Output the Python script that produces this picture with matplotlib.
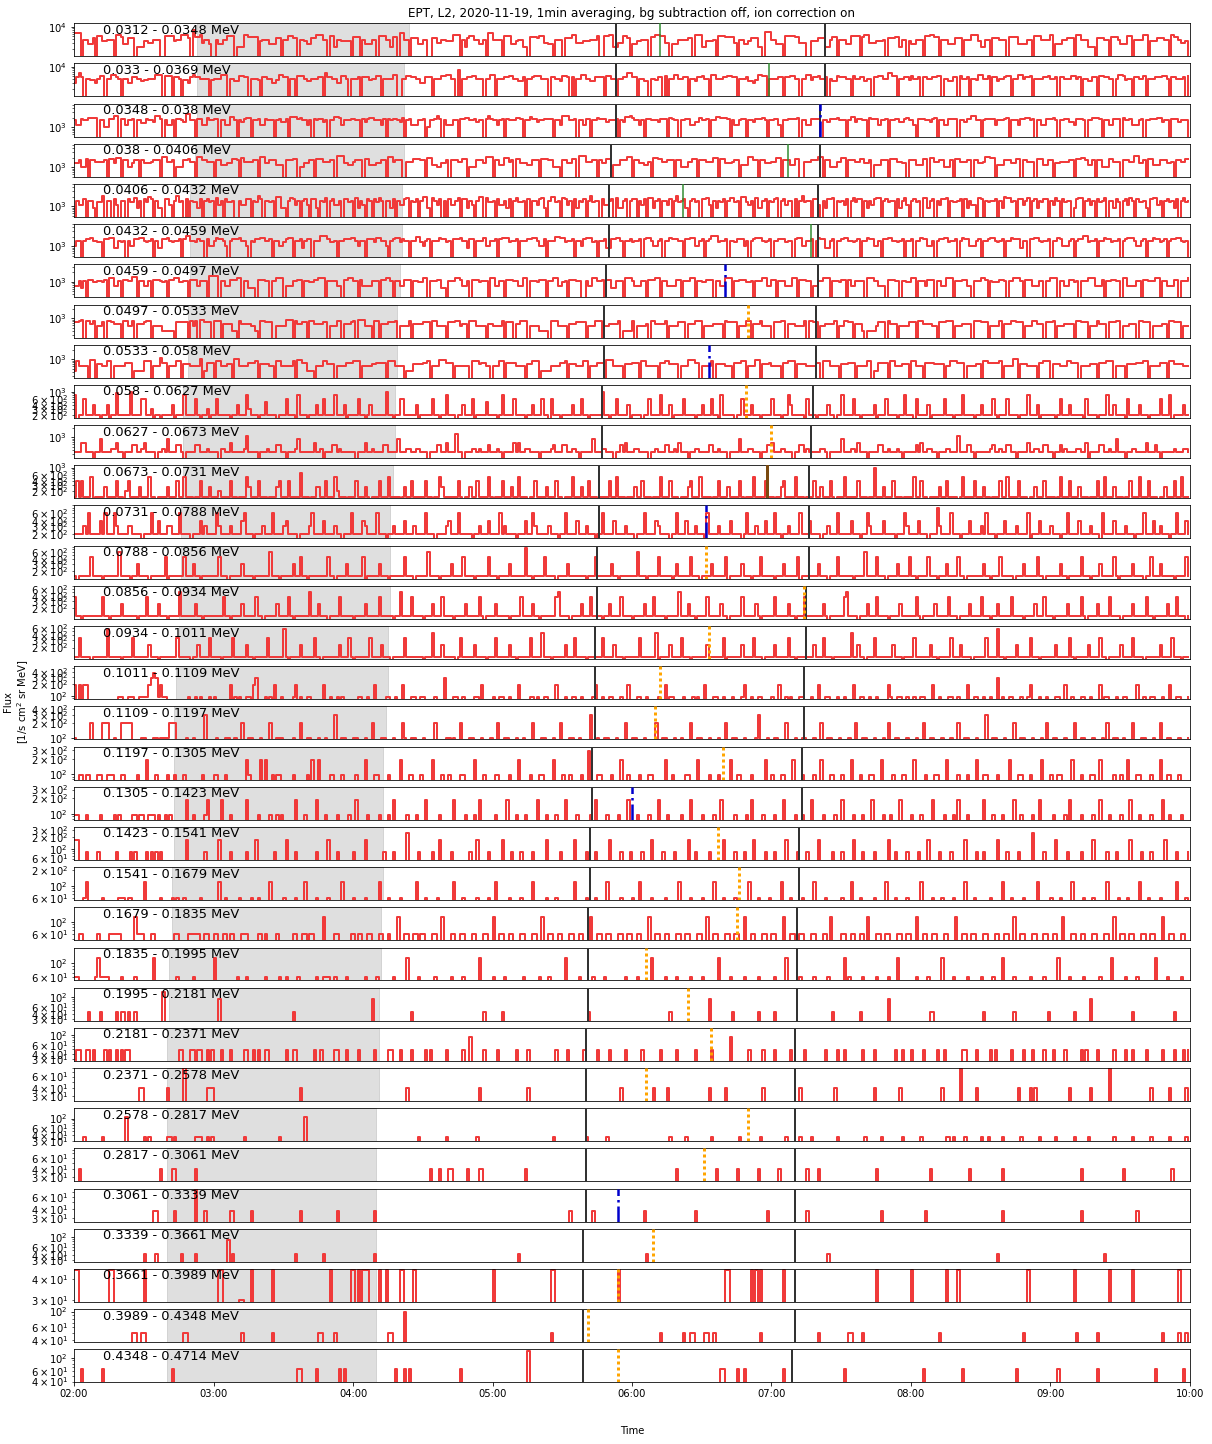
import numpy as np
import matplotlib
matplotlib.use('Agg')
import matplotlib.pyplot as plt
import matplotlib.dates as mdates

# EPT L2 electron channels, 2020-11-19 02:00-10:00, 1 min averaging
channels = ['0.0312 - 0.0348 MeV', '0.033 - 0.0369 MeV', '0.0348 - 0.038 MeV',
            '0.038 - 0.0406 MeV', '0.0406 - 0.0432 MeV', '0.0432 - 0.0459 MeV',
            '0.0459 - 0.0497 MeV', '0.0497 - 0.0533 MeV', '0.0533 - 0.058 MeV',
            '0.058 - 0.0627 MeV', '0.0627 - 0.0673 MeV', '0.0673 - 0.0731 MeV',
            '0.0731 - 0.0788 MeV', '0.0788 - 0.0856 MeV', '0.0856 - 0.0934 MeV',
            '0.0934 - 0.1011 MeV', '0.1011 - 0.1109 MeV', '0.1109 - 0.1197 MeV',
            '0.1197 - 0.1305 MeV', '0.1305 - 0.1423 MeV', '0.1423 - 0.1541 MeV',
            '0.1541 - 0.1679 MeV', '0.1679 - 0.1835 MeV', '0.1835 - 0.1995 MeV',
            '0.1995 - 0.2181 MeV', '0.2181 - 0.2371 MeV', '0.2371 - 0.2578 MeV',
            '0.2578 - 0.2817 MeV', '0.2817 - 0.3061 MeV', '0.3061 - 0.3339 MeV',
            '0.3339 - 0.3661 MeV', '0.3661 - 0.3989 MeV', '0.3989 - 0.4348 MeV',
            '0.4348 - 0.4714 MeV']

# flux for one count per minute in each channel
flux_per_count = [390, 390, 170, 165, 153, 150, 105, 82, 86, 100, 110, 67, 100, 75,
                  62, 57, 97, 100, 97, 95, 85, 60, 60, 60, 45, 47, 40, 37, 40, 38,
                  42, 15, 50, 65]

ylims = [(1150, 13000), (1150, 13000), (508, 5700), (496, 5560), (460, 5160),
         (450, 5050), (316, 3550), (245, 2750), (258, 2900), (166, 1610),
         (218, 2450), (122, 1170), (160, 900), (127, 860), (105, 710), (104, 680),
         (83, 570), (93, 450), (79, 353), (76, 340), (55.5, 350), (54.2, 227),
         (47, 179), (53.5, 178), (28, 169), (28, 145), (25.5, 80.6), (29, 175),
         (25.4, 84), (27, 78), (28, 150), (29.3, 45.5), (37.5, 108), (38.8, 138)]

# counts per minute from 02:00, base 36 digits (0-9, a-z), 10 minutes per group
counts = [
    ("ggg0aa77b0 dd99aaa0ee c77bbb0666 9988aaa00d ddd9aaeeeb 0kcce8aa70"
     "0a77aaddd0 666eecccc0 9aaa777bb0 aaddbb0aa9 77bbeeeaa0 dd6aa99990"
     "ccc0a777aa 0dddaa6cc0 ggaa0bbb77 aa00bb88aa 999eee0a6b ddaa77a0gg"
     "aaaa0ddd77 9aa660cccb dd88770aaa 0bbbee8889 99aaad00dd ee6688ddb0"
     "7799aaa0cc eedd880777 aaaabb0eee 66999a0ddd cccc80aa77 9bbb660hhh"
     "aa7770dddd cc88800999 bbb66acc0a aa77dddd0c ee888999a0 bbbcc6aa09"
     "77aaa0ddee cc0aaa777b bb0aaaeee9 66aa0bbbaa a0cccc7777 aa0dddaaaa"
     "e0777aabbb 0eeaaa6660 bbbaa0ccca 777dd0aaaa ee0999bbba a0ecca8890"),
    ("8cgc0bbaa8 bdd0bbeecb 0bb88ccbb9 aabbbeee0d dd0ccb0aa8 ceccbbbb0a"
     "bbbeee0bb9 9ddcc0bbba 0ccbb88aee cc0bb0dddb 99bbbcc0hc cbb88ddb0b"
     "bbc0cccabb dd0bbbbee0 0bbddccbb8 8ccc0bbbdd eebb0k0bbc cddbbb0bbe"
     "e0bbbccddb b99c0bbcdd dbbb0ccbb9 ddc0c0bbee bb99cccc0d dbb0bbccgg"
     "cc0bb990bb acc0d0bbee bbcc0bb9cc dbb0eebbbc cddcc0bbbc 998aeedd0b"
     "bbbcc0ccdd bb0bbeeacc dbbc0b99dc ccbb0dbbcc 9bb0ccddbb ggdd0bbcca"
     "dbbc0ccbbc cdd0bb99cc 0dbbc0bbae ebbd0cc9bb cdd0bbeebc cd0bbbbccd"
     "bbc0ccbbbd dbc0bb99cc 0ddccbb0be edabb0ccbb d0bbbcccdd b0ccbbbc0d"),
    ("a77baacccc 0aa66bbee0 bb7aab0aa8 8baa9eeb0a 77a0bba9gg aa0bb77caa"
     "bb0aa77dda 0a9bcc0aab 77baaa0ab9 9b0dddbcaa 7a0babb9a0 aaddc7aaab"
     "baa0b9bcca aa7b0babba 9c0ab777aa b06aabeb0a 777aa0bbcc aab9aa0beb"
     "aa7ab0baaa ccb0aadbb9 aabbbb0aa7 eeeaab0aa7 bb0aacbbb9 aaab0a9dde"
     "caa7a0bbaa a9bbb0cbaa 0aabb7799c aab0aaddcc cb0a77abb0 aa9bbbca0a"
     "abb70aabbb bc0aa77bbb b0aa9bbbca aa0add9bba a0cbbb7aab 0aabb99bca"
     "a70bbbaa9b c0aa77bbbb 0aa9bbeeaa 0abbbb7aaa bc0aaa7bbc cab0aa77bb"
     "bca0aabb99 7bbba0aacc cb0aa77bbb 0caab777ab 0aabbbcc9a a0bbb9aaa0"),
    ("88a66b0aa9 999a0bb8cc 0aa668aa0a 8889aaa0dd 99a0666aab 990ddaa999"
     "0aa77788bb a0c9999aa0 dd88aaa777 0aaabb0668 8aa0bbb999 aa0eee8877"
     "9aaa0bb777 88aa0dd9aa a00999bbba a0cc776688 a0aaa99bb0 666aaa8ddd"
     "0aa77cc9a0 bb88877aaa 0bbbaa6660 aa88bb0eee 999aa0a88b b0777aaadd"
     "0aa887790c cbb99aaa0a a66699bb0a aa999cc0bb 8889aa0777 ddaa0aa888"
     "99cc0aaa77 bb00999aaa dd0aa66699 cc0aaa99bb 88a0777aaa 0bbb99880a"
     "aa777bb0cc 99aa666a0b b999aa0aa8 89ddcc0777 aaa88bb0aa 9990bbb77a"
     "a0889999aa 0bbcca77a0 aa666bb999 0aaa99ee88 a0bb777aaa 8890aa99bb"),
    ("0a77b0aa60 99e0aa0b70 aa0b99c6a0 b9db0a660b b70ae9a0b0 a996b0ab9a"
     "0c7a0b99a0 0a77bb0a9e b0aa9a0dd6 60acb7a0ab 70bb60a9c0 ab77a0bb9a"
     "0c6a70ba0b 9ca0aa6b0a 77bc0a9b0a dd60ca7b0a 0b77ac0bb6 a70add0c99"
     "a0b77a6b0a c99a0b0aa7 bc60add9a0 cb7a0b6a9b 0ae9aa0b77 ab0c66ab0a"
     "bb0a7b0cc6 ab0aa7b0ae 9ab60ab9a0 bbc70a6a9b 0acc9a0dd9 7a0c66ab0a"
     "9bc0ab7aa0 b0ae9aa0bb 70a6bbc0a9 a7b0ac9bb0 a6a7bcc0ab 9aa0b6ac70"
     "ab9a0cc6ab 0a7bbc0a99 ab0b6a770c b0a9aab0a6 dcc9a0bb7a c0ab6a9bb0"
     "a7ca0b9aa0 6bcc0ab7a0 b9ac0aa6b9 0ab7ca0b99 a60bcc7a0a b9a6b0ac9a"),
    ("7aa0abbcaa 990bbcc66a 9a0a77bbcc a9ab0a66bb ca9aab0bee aa9baa0b77"
     "acbba70abb bcaa70a9bb ccaab0aa77 9bcc0aab6a bb0aaaeeeb 99a0aabbbc"
     "ca7aa0bbb9 ccaa70abcc 9baa0aadd9 7ab0aaacbb 9a0bbbcaa6 bb0aaac77a"
     "ab0bccc9aa b0aaabbcca 77b0aaaddc c9aab0aa7b ccc9a0aab6 6bbcca0aab"
     "9aab0bcca7 7ab0aacbbb aa0bbcc77a b0abeee9aa b0aa9bbb7a 0abccca9ab"
     "0aabbb9aa0 bcc77aab0a cbb66ab0aa bccaa9ab0a acbb77a0bb ccaa9ab0aa"
     "b0aacbb77a 0abbcc9aab 0acbb777ab 0aabcca9ab 0aacbbb6aa 0bbcca9aab"
     "0aacb777ab 0abbee9aab 0aacbb9aab 0abccca77a b0aacbb9ab 0abbcca9a0"),
    ("77a6a0bb99 aa9b0cc77a 0bbaadd0aa 77a0bbba9a 0bbcc99aa0 bbb7aaa0ee"
     "ee0aa77bbb cc0aa6660b bbaa0aaccc 0777aabb0a a99bbccc0a aaa770bbcc"
     "aa0b7777aa a0bbcca0aa 77bbb0aa99 cc0aaabb66 0aaaccb77a 0bbb9aaa0c"
     "c77aa0bbba a77cc0aaa9 bbb0aacc77 9a0bbbaa00 a77ccaab0b b66aaa0ccc"
     "a777aa0bbb cc0aa7777b b0aaacc0aa 99bbb0aa77 ccc0aabbb9 9a0aaacc77"
     "bb0aaa777c c0bbbaa077 aaccc0aaa9 bb0b77aaaa 0cccaa7770 bbbaa0aa99"
     "cc0aaa7bbb 0aa77ccc0a aabb770aaa ccb0a999bb a0aaccca0b bb777aa0aa"
     "ccc0aa77bb 9a0aaaccc7 77b0aabbaa 0cc7777aa0 bbaaacc0aa 777bb0aaac"),
    ("99ab0aa8a0 7790aa9888 0aa77a0888 9aa0777755 5550999990 a7a0bb9990"
     "aaa0888855 0a88887750 aa99900777 7bbb0a8899 0aa8888990 777aa08889"
     "a0bbb7770a a0888999a0 7777a08888 9990aa7777 0999aa7880 aaa7777088"
     "7777a09990 88aaa07777 55550aaa77 7708889999 0777aaa077 8888a05555"
     "a0777780aa 8888a07777 9990888aaa 0777788880 a99990777a a0888a7777"
     "0999aa0888 7777a0aa99 0778888a07 7aa9908885 0555579990 a888077779"
     "990aa88887 70999aaa07 7788880aaa 99907777a0 888aa99907 77aa888099"
     "9a07778888 0aa9990777 a8880999aa 07778880aa 9990777788 0aa9990777"),
    ("5a77770bb0 8877aa0777 7799905555 aaa0777d99 0777aa0888 7777c05999"
     "0aa777880c c7777999a0 8888770aa7 7777a0bb99 5550777aa8 8807777999"
     "aaa0777788 99990aaa77 7705558888 99a0777bbb 9990777777 0aaa899770"
     "777aa09999 7777088aaa 0555577779 9a0888777a a07779990b bb77770888"
     "9990aa7777 7099aa8888 0777bbb990 7777a08888 7770999aa0 777bb08889"
     "7777099aaa 0888877779 90aaa77770 8889990777 7aa0559999 0aa7778880"
     "aa77709999 8888077aaa 9990777788 0aa99999a0 7777cc0888 7777099aaa"
     "0888777aa9 9907777888 0999aaa077 7708888999 aa07777999 0aa8888777"),
    ("8022622242 2022402292 2222a22226 6223022022 2240222822 2262022302"
     "2622222022 4222832220 2252222022 2622208222 0222422622 2282224022"
     "2262202422 2222a22022 6622222402 2222622022 8222022422 2602222522"
     "2202822226 2222022422 2622062220 2222422262 2022222a22 0226222240"
     "2222022622 2282224022 2262222022 4222622082 2222022622 2422202222"
     "6222022842 2222062220 2222422022 8222262202 2222402226 2222022822"
     "2062222402 2222622202 2282222022 4222262022 2622220222 8222402222"
     "2202622242 2222062222 0222822422 2206222242 2202222622 2802222422"),
    ("3336633303 3833334463 3033355334 6333303343 8333553033 3355333433"
     "3304433633 3334a33330 3334333553 3033348333 3336334033 3553433333"
     "3033363343 3335533338 3334433443 3303335533 6333c33033 3443433353"
     "3343033336 3633443333 0333345333 5533443033 3338333443 3303353633"
     "3443333033 4333553343 6333033443 3335533433 3033338333 4433303355"
     "6333443330 3355343333 3443033333 8333443633 3033335533 4333430333"
     "3353633443 3033344333 a333553033 3333453343 3553303333 6334433553"
     "3033534333 3443360333 3553343383 3303344333 3633353033 3334333443"),
    ("2626222802 2224222262 2036222242 2282202222 4222622822 2022622242"
     "2232222622 0222842226 2220222462 2262222a22 2022442262 2283222022"
     "2622242022 2622282222 0242262222 2622022842 2222262022 4226222282"
     "0222622242 2822202262 2224222622 0222822242 2622202222 6228222022"
     "2422622202 2282226222 0222462228 2222022622 2422226202 2282222622"
     "2022462222 8222022262 2422262022 2822222622 2022f22242 2262220222"
     "2822622022 2242262222 0282222622 2422022262 2822226222 0224222622"
     "2202822262 2242220222 6228222422 2022622282 2262220224 2226228222"),
    ("2222326222 2426222632 2223322220 2226224222 3322262222 0222423222"
     "2632222322 2246222022 2322262222 3422220222 2362222422 2232202226"
     "2222432222 6222022322 2242223222 2622202222 3422262222 2022322242"
     "2226232222 0222422632 2222322202 2622224222 3222022622 2242222322"
     "2022262222 4322220226 2224222322 2062222322 2242222026 2223222422"
     "2622022322 2262224222 2022322262 2222422202 2632222242 2220222632"
     "2224222022 2832222622 2022242222 3262220222 4222232222 6022242222"
     "3222022622 2242222322 2062222422 2232220222 6222422322 2022622242"),
    ("2022222622 2202222228 2222022422 2202222226 0222222622 2422022222"
     "2262220222 2242222022 2222822202 2222422622 0222222226 2202222422"
     "2222602222 2422202222 2262220222 2282222022 2242222622 2202222262"
     "2202222422 2222a22022 2262222022 2242222222 0222622222 2422022222"
     "2282220222 2622222024 2222262220 2222422222 6022222422 2022262222"
     "2022242222 2602222222 4222022262 2222202222 8222262220 2222422226"
     "2202222622 2022242222 6220222222 2422022262 2222022242 2222622022"
     "2222422022 2226222022 2422222620 2222242222 0226222422 2220222262"),
    ("6220222222 2262202222 4222222022 2622224222 0222282222 2242202222"
     "2222622022 2242222262 2022222422 2262022222 2822242220 2222622222"
     "0222242222 2622222022 8222262222 0222422262 2220222242 2222620222"
     "2422222022 2262222422 0222222682 2220222242 2262222022 4222262222"
     "0222242226 2222022222 8222422022 2262222242 2022222622 2224202222"
     "2622222422 0222622222 2242022222 2682222022 2422262222 0222242222"
     "2262022222 4222226222 0222242222 6222022422 2226222202 2224222622"
     "2022222422 2226202222 4222262222 0222242222 2622022222 4222622202"),
    ("2262222022 2222a22222 0222262222 2242220222 2222622222 0224222262"
     "2220222262 2222422022 2226222222 a202222422 2226220222 2222422262"
     "0222222622 2242220222 2262222222 0222822242 2222026222 2242222022"
     "2622222422 0222226222 2822202222 2422262222 0222222622 2242220222"
     "2226222222 8022224222 2622202222 2242222226 0222222422 2262220222"
     "2422222622 0222222242 2262220222 2222822422 0222622222 2242220222"
     "2622222242 2022222622 2422220222 2262222a22 0222242222 2622202222"
     "2242222262 0222224222 2622022222 4222262222 0222222422 2262220222"),
    ("2020220000 0000000001 1001110011 1123431211 0000000001 0010100010"
     "1000000201 0100110230 0010102001 0000120100 1100000200 1001010000"
     "0011001002 0000110010 0200011001 1000010003 0001100100 0011020000"
     "1001100100 0200001101 0011000200 0100110010 0001200100 1100010020"
     "0011001000 0100201100 0010001010 0200011001 0001000120 0100110000"
     "1002001010 0011000100 2001100010 0100020011 0010010000 2100110010"
     "0100110002 0010001100 1000200110 0100100301 0011000100 1200010010"
     "0011002001 0001100100 0201100010 0110000200 1001100010 0200110001"),
    ("1000000200 0022200100 2222200001 1000110111 1222000010 0100003000"
     "0100011001 0020011000 1000200111 0000100200 1100010010 0030011000"
     "1100010020 0011000100 0210011000 1000020000 1101002000 1100010001"
     "0020011000 1001000200 0110001002 0001100100 0030010011 0001000200"
     "1100010000 2001100010 0100020011 0001000100 2001100010 0001300010"
     "0110002000 1001100010 0200110001 0001002001 1000100010 2001100010"
     "0010020011 0001000100 2001100010 0030011000 1000200110 0010001020"
     "0110001000 2001100010 0010200110 0100020001 1000100200 1100010001"),
    ("0011011000 1100111000 1100000100 0200010000 1001000100 0000010000"
     "1100010000 0000210000 2020010110 0000100000 1020020000 1100010000"
     "0100020001 1000010000 2000110001 0000200010 0100001100 0020001000"
     "0110000100 0200001000 1100002000 1001000010 0300011000 0100020010"
     "0001000110 0000200100 0001100020 0001000100 0020011000 0100000200"
     "1000110002 0001000010 0200011000 1000200010 0011000200 0010001100"
     "0200001000 1100020000 1000100020 0110000100 0020001100 0100002000"
     "1001100002 0001000110 0200000100 1002000110 0001000200 1100010000"),
    ("1100010000 0100000101 0000011011 0011101001 0100000020 0100001200"
     "0002000100 0000200001 0000100101 0000020001 0000200010 0001000010"
     "0200001000 0100010200 0001000100 0200000100 0002000010 0010200000"
     "0100002000 1000100002 0001000100 0200001000 0010200001 0000100020"
     "0010000100 0200010000 0100020000 1000010020 0000100001 0200001000"
     "0100020000 1001000200 0010000100 2000010001 0002000010 0100020000"
     "1000100002 0000100010 2000100000 0200010001 0000200100 0010020000"
     "0100001020 0001000010 0200010000 1000200010 0001000020 0100001000"),
    ("2200010000 1000000010 0000101000 0101010100 0000000020 0000001000"
     "0020000100 0000100020 0000001000 0200010000 0000100002 0001000000"
     "1000020000 0001000100 0003000010 0000100200 0010000000 1002000010"
     "0000200010 0010000100 0002000001 0000020000 1000100000 2000010001"
     "0000100020 0001000010 0000200100 0001000002 0000100010 0020000100"
     "0100002000 0100010000 2000001000 1000020001 0000100000 2001000010"
     "0001000200 0010000100 0002000010 0100000200 0100001000 0030000100"
     "0020000100 0001000020 0000100010 0000200001 0001000002 0000100001"),
    ("0000120000 0010000001 1101100000 2000000100 0010100100 0000100000"
     "0020010000 0100001001 0000200000 1000010002 0000100001 0000020000"
     "1000010000 0200010000 1000000200 0100001000 0002000100 0001000010"
     "0200000100 0010000200 0001000100 0000020000 1000100002 0000010000"
     "1002000010 0000100000 2000010000 1000020001 0000100000 2000100001"
     "0000200010 0001000020 0001000000 1000200010 0000100002 0001000010"
     "0000200001 0001000010 0002000100 0000100002 0001000010 0000200000"
     "1000100002 0000100010 0000200001 0001000020 0010000100 0000200010"),
    ("0011000000 1000011111 0000002111 0001100000 0001100001 1111001100"
     "1100110110 0011100001 1010000100 0000110011 0110000200 0011000001"
     "1011001100 0110010002 0011001101 1000110020 0011001100 0110001100"
     "2001100110 0011000110 0200110011 0001100110 0020011001 1000110011"
     "0011000200 1100110001 1001100011 0020011000 1100110020 0110001100"
     "1100020011 0011000110 0011020000 1100110011 0200011001 1000110011"
     "0020011001 1000110002 0011001100 0110001100 1100200110 0011000110"
     "0110020001 1001100011 0001100200 1100110001 1001100020 0110001100"),
    ("1100000001 2111100000 1000001000 0000200000 0000100000 0100000000"
     "2000000000 1000100000 0010000010 0100001000 0000100111 0010000100"
     "0000010000 1000000100 0002000010 0000010000 0010000100 0000200000"
     "1000010000 0001000000 1000100000 0200000100 0001000010 0000000100"
     "0010000020 0000100001 0000010000 1000000200 0010000010 0000100000"
     "0100002000 0010000010 0000100000 0201000001 0000010000 1000200000"
     "0010000100 0002000010 0000100000 1000010002 0000100000 0100000100"
     "0002000010 0000100000 0100002000 0010000100 0000020000 1000001000"),
    ("0000001000 0100000010 1101001000 0000000030 0000000000 0000000000"
     "0020000000 0000000000 0000000000 0000100000 0000000000 0000000000"
     "0000000020 0000000000 0000010000 0000000000 0000000000 0000001000"
     "0000100000 0000000000 0000000000 0000000000 0100000000 0000000000"
     "0000000000 0000001000 0000000000 0002000000 0001000000 0000100000"
     "0100000000 0000000000 0000001000 0000000010 0000000000 2000000000"
     "0000000011 0000000000 0000000000 0100000000 0000100000 0000000001"
     "0000000000 1000000200 0000000000 0000010000 0000000000 0001000000"),
    ("0110011010 0001010010 1011000000 0000000000 0000011000 1101100101"
     "0001000100 0001100101 0011000000 0100110000 0001001000 0011000100"
     "0010000001 0000011000 1000010000 0101000000 1000000100 2000001000"
     "0010000000 1000010000 0000000100 0010000001 0000010000 1000000100"
     "0000100000 0010000001 0000000100 0000100000 0020000000 1000001000"
     "0100000010 0000100000 0001000010 0100000001 0000100000 0001001000"
     "1000010000 0100100000 0011000010 0000101000 0001000010 0010000100"
     "0100001000 0001010000 1000000100 0010010000 0100000010 0001000101"),
    ("0000000000 0000000000 0000000011 0000000000 1000000200 0000000111"
     "0000000000 0000000000 0000000000 0000000100 0000000000 0000000000"
     "0000000000 0000000000 0001000000 0000000000 0000000000 0000100000"
     "0000000000 0000010000 0000000000 0000000000 0000000000 0000010000"
     "0000000001 0000010000 0000000000 0001000000 1000000000 0000001000"
     "0000000000 0010000000 0000000100 0000000000 0000100000 0000010000"
     "0000000000 0001000000 0200000010 0000000000 0000001000 0101000000"
     "0000000010 0000000100 0000020000 0000000000 0001000000 0100000010"),
    ("0000100000 0010000000 0030000000 1010000000 1101000000 0011100101"
     "0000000000 0001000000 0000000010 0000000003 0000000000 0000000000"
     "0000000000 0000000000 0000000010 0000000000 1000000000 0001000000"
     "0000000000 0000000000 0000001000 0000000000 1000000001 0000000000"
     "0000000000 0000001000 0001000000 0000100000 0000001000 0000010000"
     "0000001000 0010000100 0000000010 0000000000 1000000100 0000001000"
     "0000100000 0000011010 0001000000 1001000001 0000000100 0000010000"
     "0010000000 1000001000 0000000100 0000010000 0001000000 0100000010"),
    ("0010000000 0000000000 0000000000 0000000100 0011000000 0010000000"
     "0000000000 0000000000 0000000000 0000000000 0000000000 0000000000"
     "0000000000 0000000000 0000000000 0001000100 0110000001 0000110000"
     "0000000000 0000100000 0000000000 0000000000 0000000000 0000000000"
     "0000000000 0000000001 0000000000 0000001000 0000010000 0000100000"
     "0001000000 0000010000 1000000000 0000000000 0000010000 0000000000"
     "0000000010 0000000000 0000010000 0000000001 0000000000 0000000000"
     "0000000000 0001000000 0000000000 0100000000 0000000000 0010000000"),
    ("0000000000 0000000000 0000000000 0000110000 0001000000 0020001000"
     "0000000110 0000001000 0000000000 0000000100 0000000000 0001000000"
     "0000000001 0000000000 0000000000 0000000000 0000000000 0000000000"
     "0000000000 0000000000 0000000000 0001000000 0001000000 0000000000"
     "0000010000 0000000000 0000000100 0000000000 0000000000 0000000010"
     "0000000000 0000010000 0000000000 0000000000 0000000100 0000000000"
     "0000001000 0000000000 0000000000 0000000001 0000000000 0000000000"
     "0000000000 0001000000 0000000000 0000000100 0000000000 0000000000"),
    ("0000000000 0000000000 0000000000 1000010000 0000001000 0010000000"
     "0000002010 0000000000 0000000000 0000010000 0000000100 0000000000"
     "0000000001 0000000000 0000000000 0000000000 0000000000 0000000000"
     "0000000000 0100000000 0000000000 0000000000 0000000000 0000000000"
     "0000001000 0000000000 0000000000 0000000000 0000000000 0000000000"
     "0000000000 0000000000 0000100000 0000000000 0000000000 0000000000"
     "0000000000 0000000000 0000000000 0000000100 0000000000 0000000000"
     "0000000000 0000000000 0001000000 0000000000 0000000000 0000000000"),
    ("3300000000 0000033000 0000000000 3000000000 0000000000 0000000000"
     "0033000000 0220003000 0000030000 0000000000 0000000000 3000000003"
     "3030333000 0300300000 3300003000 0000000000 0000000000 0000000000"
     "3000000000 0000000000 0000033000 0000000000 0000000000 0000300000"
     "0000000000 0000000000 0000000000 0000000000 3300000000 0303030000"
     "0000030000 0000000000 0000000000 0000000000 0000030000 0000000000"
     "3000000000 0000030000 3000000000 0000000000 0000000000 3000000000"
     "0000000000 3000000000 0000030000 0000030000 0000000000 0000030000"),
    ("0000000000 0000000000 0000011001 1000000000 0000000110 0000000000"
     "0000000000 0010000000 0000010000 0000000000 0000011000 0010000000"
     "0000000000 0000011000 0020000000 0000000000 0000000000 0000000000"
     "0000000000 0000000000 0000010000 0000000000 0000000000 0000000000"
     "0000000000 0010000000 0010011000 0110010000 0000000000 0000010000"
     "0000000000 0000000000 1000000000 0001100001 0000000000 0000000000"
     "0000000000 0010000000 0000000000 0000000000 0000000010 0000000000"
     "0000000000 0100000000 1000000000 0000000000 0000000010 0000010010"),
    ("0001000000 0010000000 0000000000 0000000000 0010000000 0000000000"
     "0000000000 0000000000 0000000000 0000001100 0000100000 0000101000"
     "0000000000 0000000010 0010100000 0000000000 0000001000 0000000000"
     "0000000000 0000020000 0000000000 0000000000 0000000000 0000000000"
     "0000000000 0000000000 0000000000 0000000011 0000010010 0000000000"
     "0000010000 0000000000 0000000000 0100000000 0000000000 0000000000"
     "0000010000 0000000000 0010000000 0000000000 0000010000 0000000000"
     "0001000000 0000000000 1000000000 0000000000 0000010000 0000000100"),
]

# minutes after 02:00
gray_start = [53, 53, 53, 52, 50, 50, 50, 49, 49, 47, 47, 47, 46, 46, 45, 45, 44,
              43, 43, 43, 43, 42, 42, 41, 41, 40, 40, 40, 40, 40, 40, 40, 40, 40]
gray_end = [144, 142, 142, 142, 141, 141, 140, 139, 139, 138, 138, 137, 136, 136,
            136, 135, 135, 134, 133, 133, 133, 133, 132, 132, 131, 131, 131, 130,
            130, 130, 130, 130, 130, 130]
line1 = [233, 233, 233, 231, 230, 230, 229, 228, 228, 227, 227, 226, 226, 225, 225,
         224, 224, 224, 223, 223, 222, 222, 221, 221, 221, 220, 220, 220, 220, 220,
         219, 219, 219, 219]
line2 = [323, 323, 321, 321, 320, 320, 320, 319, 319, 318, 317, 316, 316, 316, 315,
         315, 314, 314, 313, 313, 312, 312, 311, 311, 311, 310, 310, 310, 310, 310,
         310, 310, 310, 309]
flag_min = [252, 299, 321, 307, 262, 317, 280, 290, 273, 289, 300, 298, 272, 272,
            314, 273, 252, 250, 279, 240, 277, 286, 285, 246, 264, 274, 246, 290,
            271, 234, 249, 234, 221, 234]
flag_kind = ['g', 'g', 'b', 'g', 'g', 'g', 'b', 'o', 'b', 'o', 'o', 'r', 'b', 'o',
             'o', 'o', 'o', 'o', 'o', 'b', 'o', 'o', 'o', 'o', 'o', 'o', 'o', 'o',
             'o', 'b', 'o', 'o', 'o', 'o']

styles = {'g': dict(color='#2e8b2e', lw=1.5),
          'b': dict(color='#0000cc', lw=2.5, ls='-.'),
          'o': dict(color='orange', lw=3, ls=(0, (1, 1))),
          'r': dict(color='#7a4a10', lw=3)}

t0 = np.datetime64('2020-11-19T02:00')


def at(m):
    return t0 + np.timedelta64(int(round(m * 60)), 's')


fig, axes = plt.subplots(len(channels), 1, sharex=True,
                         figsize=(1212 / 72, 1444 / 72), dpi=72)
fig.subplots_adjust(left=0.0611, right=0.9818, top=0.9839, bottom=0.0427,
                    hspace=0.218)

for i, ax in enumerate(axes):
    c = np.array([int(ch, 36) for ch in counts[i].replace(' ', '')])
    t = t0 + np.arange(len(c)) * np.timedelta64(1, 'm')
    ax.axvspan(at(gray_start[i]), at(gray_end[i]), color='grey', alpha=0.25, zorder=0)
    ax.step(t, c * flux_per_count[i], where='post', color='#f03a3a', lw=2, zorder=2)
    ax.set_yscale('log')
    ax.set_ylim(*ylims[i])
    ax.axvline(at(line1[i]), color='#333333', lw=2, zorder=3)
    ax.axvline(at(line2[i]), color='#333333', lw=2, zorder=3)
    ax.axvline(at(flag_min[i]), zorder=4, **styles[flag_kind[i]])
    ax.text(0.0257, 0.985, channels[i], transform=ax.transAxes, fontsize=13,
            va='top', zorder=5)
    if i < len(axes) - 1:
        ax.tick_params(axis='x', which='both', bottom=False)

axes[-1].set_xlim(at(0), at(480))
axes[-1].xaxis.set_major_locator(mdates.HourLocator())
axes[-1].xaxis.set_major_formatter(mdates.DateFormatter('%H:%M'))
axes[0].set_title('EPT, L2, 2020-11-19, 1min averaging, bg subtraction off, ion correction on')

fig.text(0.014, 0.514, 'Flux\n[1/s cm$^2$ sr MeV]', rotation=90, ha='center', va='center')
fig.text(0.522, 0.009, 'Time', ha='center', va='center')

fig.savefig('out.png', dpi=72)
